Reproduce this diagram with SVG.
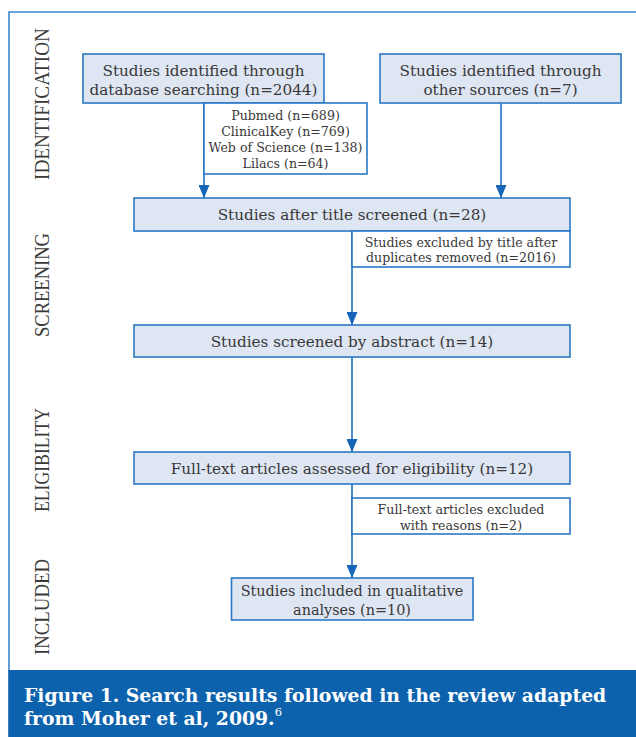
<svg xmlns="http://www.w3.org/2000/svg" width="636" height="737" viewBox="0 0 636 737">
<style>
  .box { fill: #dfe6f3; stroke: #2a78c4; stroke-width: 1.6; }
  .sub { fill: #ffffff; stroke: #2a78c4; stroke-width: 1.6; }
  .t { font-family: "DejaVu Serif", "Liberation Serif", serif; fill: #383838; text-anchor: middle; }
  .m { font-size: 15.2px; }
  .s { font-size: 12.6px; }
  .phase { font-family: "Liberation Serif", "DejaVu Serif", serif; font-size: 21px; fill: #3a3a3a; text-anchor: middle; }
  .conn { stroke: #1e6fbf; stroke-width: 1.6; fill: none; marker-end: url(#arr); }
  .cap { font-family: "DejaVu Serif", "Liberation Serif", serif; font-weight: bold; font-size: 18.8px; fill: #ffffff; }
</style>
<defs>
  <marker id="arr" viewBox="0 0 13 11" refX="13" refY="5.5" markerWidth="13" markerHeight="11" markerUnits="userSpaceOnUse" orient="auto">
    <path d="M0,0 L13,5.5 L0,11 z" fill="#1565b8"/>
  </marker>
</defs>
<rect x="0" y="0" width="636" height="737" fill="#ffffff"/>
<g id="frame">
  <path d="M9,670 L9,12 L640,12" fill="none" stroke="#3a86cc" stroke-width="1.6"/>
  <rect x="8.2" y="670" width="630" height="67" fill="#0d62ad"/>
</g>
<g id="phases">
  <text class="phase" transform="translate(49,104) rotate(-90)" textLength="152" lengthAdjust="spacingAndGlyphs">IDENTIFICATION</text>
  <text class="phase" transform="translate(49,285) rotate(-90)" textLength="104" lengthAdjust="spacingAndGlyphs">SCREENING</text>
  <text class="phase" transform="translate(49,460) rotate(-90)" textLength="104" lengthAdjust="spacingAndGlyphs">ELIGIBILITY</text>
  <text class="phase" transform="translate(49,607) rotate(-90)" textLength="96" lengthAdjust="spacingAndGlyphs">INCLUDED</text>
</g>
<g id="connectors">
  <line class="conn" x1="204" y1="103" x2="204" y2="198"/>
  <line class="conn" x1="501" y1="103" x2="501" y2="198"/>
  <line class="conn" x1="352" y1="231" x2="352" y2="325"/>
  <line class="conn" x1="352" y1="357" x2="352" y2="452"/>
  <line class="conn" x1="352" y1="484" x2="352" y2="578"/>
</g>
<g id="db-search">
  <rect class="box" x="83" y="54" width="241" height="49"/>
  <text class="t m" x="203.5" y="76">Studies identified through</text>
  <text class="t m" x="203.5" y="94.5">database searching (n=2044)</text>
</g>
<g id="other-sources">
  <rect class="box" x="380" y="54" width="241" height="49"/>
  <text class="t m" x="500.5" y="76">Studies identified through</text>
  <text class="t m" x="500.5" y="94.5">other sources (n=7)</text>
</g>
<g id="databases">
  <rect class="sub" x="204" y="103" width="163" height="71"/>
  <text class="t s" x="285.5" y="119.5">Pubmed (n=689)</text>
  <text class="t s" x="285.5" y="135.5">ClinicalKey (n=769)</text>
  <text class="t s" x="285.5" y="151.5">Web of Science (n=138)</text>
  <text class="t s" x="285.5" y="167.5">Lilacs (n=64)</text>
</g>
<g id="title-screened">
  <rect class="box" x="134" y="198" width="436" height="33"/>
  <text class="t m" x="352" y="220">Studies after title screened (n=28)</text>
</g>
<g id="excluded-title">
  <rect class="sub" x="352" y="231" width="218" height="36"/>
  <text class="t s" x="461" y="246.5">Studies excluded by title after</text>
  <text class="t s" x="461" y="262">duplicates removed (n=2016)</text>
</g>
<g id="abstract-screened">
  <rect class="box" x="134" y="325" width="436" height="32"/>
  <text class="t m" x="352" y="346.5">Studies screened by abstract (n=14)</text>
</g>
<g id="fulltext-assessed">
  <rect class="box" x="134" y="452" width="436" height="32"/>
  <text class="t m" x="352" y="473.5">Full-text articles assessed for eligibility (n=12)</text>
</g>
<g id="fulltext-excluded">
  <rect class="sub" x="352" y="498" width="218" height="36"/>
  <text class="t s" x="461" y="513.5">Full-text articles excluded</text>
  <text class="t s" x="461" y="530">with reasons (n=2)</text>
</g>
<g id="included">
  <rect class="box" x="231.5" y="578" width="241.5" height="42"/>
  <text class="t" style="font-size:14.4px" x="352" y="596">Studies included in qualitative</text>
  <text class="t" style="font-size:14.4px" x="352" y="615">analyses (n=10)</text>
</g>
<g id="caption">
  <text class="cap" x="24" y="702">Figure 1. Search results followed in the review adapted</text>
  <text class="cap" x="24" y="725">from Moher et al, 2009.<tspan font-weight="normal" font-size="11.5px" dy="-9">6</tspan></text>
</g>
</svg>
